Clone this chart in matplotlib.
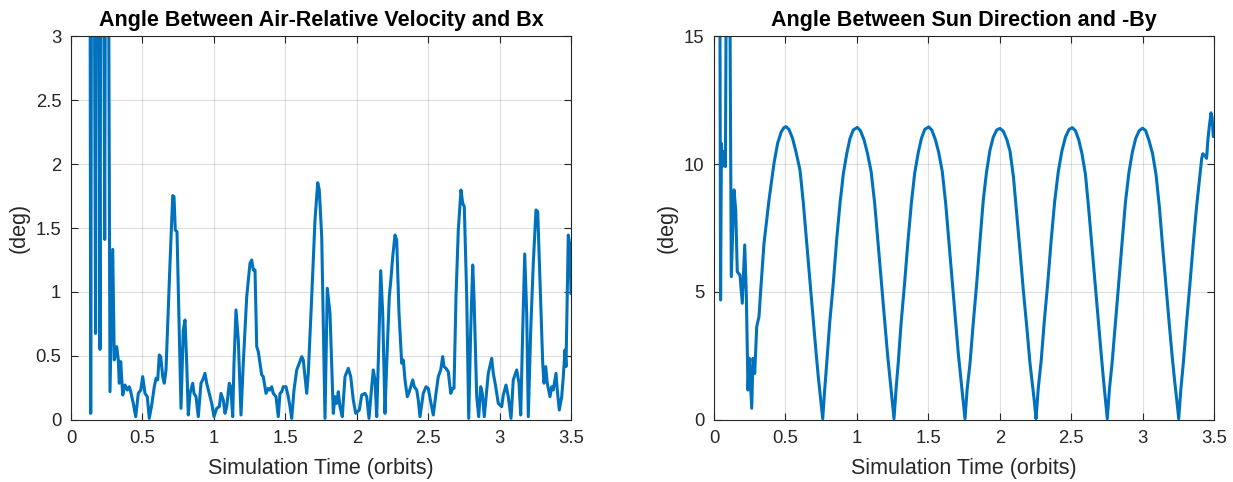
import matplotlib
matplotlib.use("Agg")
import matplotlib.pyplot as plt

plt.rcParams['font.family'] = ['Liberation Sans', 'DejaVu Sans']

# ---------------- data ----------------
titles = ["Angle Between Air-Relative Velocity and Bx", "Angle Between Sun Direction and -By"]
xlabel_text = "Simulation Time (orbits)"
ylabel_text = "(deg)"

x_ticks = [0, 0.5, 1, 1.5, 2, 2.5, 3, 3.5]
x_ticklabels = ["0", "0.5", "1", "1.5", "2", "2.5", "3", "3.5"]
left_yticks = [0, 0.5, 1, 1.5, 2, 2.5, 3]
left_yticklabels = ["0", "0.5", "1", "1.5", "2", "2.5", "3"]
right_yticks = [0, 5, 10, 15]
right_yticklabels = ["0", "5", "10", "15"]

air_t = [0.04, 0.128, 0.138, 0.150, 0.172, 0.185, 0.203, 0.215, 0.236, 0.250,
         0.273, 0.292, 0.303, 0.320, 0.331, 0.338, 0.348, 0.362, 0.378, 0.394,
         0.408, 0.418, 0.436, 0.453, 0.471, 0.488, 0.502, 0.518, 0.534, 0.548,
         0.565, 0.583, 0.595, 0.607, 0.618, 0.628, 0.642, 0.653, 0.665, 0.693,
         0.712, 0.721, 0.730, 0.742, 0.763, 0.770, 0.786, 0.798, 0.810, 0.821,
         0.833, 0.852, 0.861, 0.875, 0.891, 0.910, 0.922, 0.938, 0.950, 0.968,
         0.985, 1.001, 1.020, 1.038, 1.050, 1.066, 1.078, 1.090, 1.108, 1.118,
         1.132, 1.141, 1.155, 1.171, 1.190, 1.206, 1.230, 1.253, 1.265, 1.276,
         1.288, 1.300, 1.311, 1.323, 1.335, 1.346, 1.365, 1.381, 1.393, 1.405,
         1.416, 1.435, 1.451, 1.463, 1.475, 1.486, 1.505, 1.521, 1.533, 1.545,
         1.561, 1.580, 1.598, 1.615, 1.626, 1.638, 1.650, 1.661, 1.685, 1.708,
         1.727, 1.738, 1.755, 1.771, 1.778, 1.794, 1.813, 1.836, 1.848, 1.860,
         1.871, 1.883, 1.899, 1.918, 1.941, 1.958, 1.976, 1.993, 2.018, 2.035,
         2.058, 2.070, 2.086, 2.105, 2.116, 2.128, 2.140, 2.154, 2.168, 2.182,
         2.198, 2.210, 2.228, 2.240, 2.252, 2.268, 2.280, 2.296, 2.315, 2.326,
         2.338, 2.354, 2.368, 2.392, 2.403, 2.420, 2.431, 2.443, 2.466, 2.485,
         2.501, 2.520, 2.536, 2.555, 2.571, 2.588, 2.602, 2.611, 2.625, 2.641,
         2.658, 2.672, 2.681, 2.695, 2.711, 2.730, 2.742, 2.753, 2.770, 2.784,
         2.798, 2.812, 2.821, 2.840, 2.854, 2.868, 2.879, 2.893, 2.910, 2.921,
         2.945, 2.956, 2.973, 2.991, 3.015, 3.026, 3.045, 3.061, 3.080, 3.096,
         3.120, 3.136, 3.148, 3.162, 3.176, 3.190, 3.201, 3.218, 3.236, 3.255,
         3.267, 3.283, 3.302, 3.311, 3.323, 3.334, 3.353, 3.365, 3.376, 3.395,
         3.404, 3.418, 3.435, 3.446, 3.458, 3.465, 3.481, 3.493, 3.500]
air_deg = [8.0, 8.0, 0.052, 8.0, 0.677, 8.0, 0.552, 8.0, 1.411, 8.0,
           0.221, 1.333, 0.469, 0.573, 0.469, 0.287, 0.456, 0.195, 0.273, 0.234,
           0.260, 0.221, 0.130, 0.026, 0.208, 0.234, 0.339, 0.208, 0.182, 0.013,
           0.117, 0.260, 0.326, 0.313, 0.508, 0.495, 0.339, 0.287, 0.391, 1.224,
           1.753, 1.745, 1.484, 1.471, 0.443, 0.091, 0.703, 0.781, 0.443, 0.039,
           0.208, 0.287, 0.208, 0.182, 0.026, 0.287, 0.313, 0.365, 0.287, 0.208,
           0.130, 0.026, 0.091, 0.104, 0.208, 0.156, 0.052, 0.104, 0.287, 0.260,
           0.026, 0.443, 0.860, 0.625, 0.039, 0.443, 0.964, 1.224, 1.250, 1.172,
           1.172, 0.573, 0.534, 0.443, 0.352, 0.339, 0.208, 0.247, 0.234, 0.260,
           0.208, 0.182, 0.026, 0.208, 0.221, 0.260, 0.260, 0.182, 0.104, 0.013,
           0.234, 0.391, 0.443, 0.495, 0.469, 0.339, 0.208, 0.365, 0.964, 1.563,
           1.854, 1.797, 1.432, 0.443, 0.013, 1.029, 0.833, 0.052, 0.182, 0.130,
           0.221, 0.104, 0.026, 0.339, 0.404, 0.339, 0.156, 0.052, 0.078, 0.195,
           0.208, 0.182, 0.013, 0.260, 0.391, 0.313, 0.026, 0.573, 1.167, 0.833,
           0.052, 0.443, 0.964, 1.107, 1.276, 1.445, 1.406, 0.833, 0.443, 0.469,
           0.313, 0.182, 0.221, 0.313, 0.260, 0.234, 0.156, 0.026, 0.208, 0.260,
           0.247, 0.130, 0.039, 0.208, 0.339, 0.391, 0.495, 0.417, 0.404, 0.378,
           0.208, 0.247, 0.247, 0.964, 1.484, 1.797, 1.693, 1.667, 0.964, 0.013,
           0.703, 1.211, 0.964, 0.182, 0.026, 0.260, 0.208, 0.026, 0.234, 0.365,
           0.482, 0.365, 0.260, 0.130, 0.104, 0.195, 0.273, 0.182, 0.013, 0.313,
           0.391, 0.287, 0.039, 0.703, 1.297, 0.833, 0.026, 0.703, 1.224, 1.641,
           1.628, 1.094, 0.443, 0.287, 0.417, 0.287, 0.182, 0.260, 0.234, 0.365,
           0.234, 0.078, 0.182, 0.339, 0.547, 0.417, 1.445, 1.354, 0.990]

sun_t = [0.040, 0.046, 0.052, 0.058, 0.072, 0.080, 0.088, 0.108, 0.121, 0.140,
         0.152, 0.163, 0.182, 0.198, 0.215, 0.226, 0.238, 0.247, 0.257, 0.264,
         0.273, 0.285, 0.299, 0.315, 0.327, 0.350, 0.385, 0.420, 0.445, 0.470,
         0.490, 0.504,
         0.525, 0.550, 0.575, 0.602, 0.625, 0.649, 0.672, 0.695, 0.715, 0.730, 0.745, 0.761,
         0.775, 0.789, 0.810, 0.835, 0.858, 0.882, 0.905, 0.929, 0.952, 0.975, 1.003,
         1.025, 1.050, 1.075, 1.100, 1.125, 1.150, 1.172, 1.195, 1.215, 1.232, 1.246, 1.260,
         1.275, 1.290, 1.310, 1.335, 1.358, 1.382, 1.405, 1.430, 1.452, 1.475, 1.503,
         1.525, 1.550, 1.573, 1.598, 1.622, 1.646, 1.668, 1.690, 1.710, 1.727, 1.742, 1.757,
         1.772, 1.792, 1.815, 1.839, 1.862, 1.885, 1.908, 1.932, 1.955, 1.979, 2.002,
         2.025, 2.050, 2.072, 2.096, 2.119, 2.142, 2.165, 2.190, 2.212, 2.228, 2.242, 2.254,
         2.270, 2.290, 2.312, 2.337, 2.360, 2.385, 2.410, 2.435, 2.460, 2.485, 2.508,
         2.530, 2.553, 2.576, 2.600, 2.622, 2.645, 2.668, 2.690, 2.710, 2.726, 2.740, 2.753,
         2.768, 2.787, 2.810, 2.834, 2.857, 2.880, 2.904, 2.928, 2.952, 2.976, 3.000,
         3.022, 3.046, 3.070, 3.094, 3.118, 3.140, 3.163, 3.186, 3.207, 3.224, 3.239, 3.253,
         3.268, 3.285, 3.308, 3.332, 3.355, 3.378, 3.398, 3.414, 3.422, 3.430, 3.440, 3.448,
         3.458, 3.467, 3.479, 3.487, 3.495, 3.500]
sun_deg = [20.0, 4.69, 10.8, 9.9, 10.5, 9.9, 20.0, 20.0, 5.6, 8.99,
           8.2, 5.79, 5.66, 4.56, 6.84, 4.95, 1.17, 2.41, 1.24, 0.46,
           2.41, 1.82, 3.65, 4.04, 5.08, 6.9, 8.59, 10.03, 10.8, 11.25,
           11.42, 11.46,
           11.35, 11.0, 10.45, 9.76, 8.5, 6.9, 5.4, 3.9, 2.6, 1.69, 0.9, 0.05,
           1.2, 2.21, 3.8, 5.34, 7.0, 8.46, 9.6, 10.4, 11.0, 11.33, 11.43,
           11.3, 10.95, 10.4, 9.7, 8.45, 6.8, 5.3, 3.85, 2.55, 1.6, 0.8, 0.05,
           1.25, 2.25, 3.8, 5.4, 7.0, 8.5, 9.65, 10.45, 11.0, 11.35, 11.45,
           11.32, 10.95, 10.45, 9.7, 8.45, 6.85, 5.35, 3.9, 2.6, 1.65, 0.85, 0.05,
           1.2, 2.21, 3.8, 5.34, 7.0, 8.59, 9.7, 10.55, 11.05, 11.33, 11.39,
           11.28, 10.95, 10.5, 9.5, 8.07, 6.6, 5.08, 3.6, 2.21, 1.45, 0.75, 0.05,
           1.25, 2.3, 3.85, 5.4, 7.0, 8.55, 9.7, 10.5, 11.05, 11.35, 11.42,
           11.3, 10.95, 10.4, 9.6, 8.3, 6.8, 5.3, 3.85, 2.6, 1.6, 0.8, 0.05,
           1.2, 2.25, 3.8, 5.4, 7.0, 8.5, 9.65, 10.45, 11.0, 11.3, 11.4,
           11.3, 10.9, 10.4, 9.6, 8.3, 6.8, 5.3, 3.8, 2.5, 1.55, 0.8, 0.05,
           1.2, 2.21, 3.8, 5.34, 6.9, 8.33, 9.4, 10.22, 10.4, 10.35, 10.3, 10.22,
           11.0, 11.46, 12.0, 11.8, 11.07, 11.1]

# ---------------- style ----------------
LINE_COLOR = "#0072BD"
AX_COLOR = "#262626"

fig = plt.figure(figsize=(12.33, 4.82), dpi=100)
W, H = 1233, 482
ax_l = fig.add_axes([71 / W, (H - 420) / H, 500 / W, 384 / H])
ax_r = fig.add_axes([714 / W, (H - 420) / H, 500 / W, 384 / H])


def style(ax, title, yticks, yticklabels, ylim):
    ax.set_xlim(0, 3.5)
    ax.set_ylim(*ylim)
    ax.set_xticks(x_ticks)
    ax.set_xticklabels(x_ticklabels)
    ax.set_yticks(yticks)
    ax.set_yticklabels(yticklabels)
    ax.grid(True, color=AX_COLOR, alpha=0.15, linewidth=0.8)
    ax.set_axisbelow(True)
    ax.tick_params(direction="in", top=True, right=True, length=5, width=0.8,
                   colors=AX_COLOR, labelsize=13.3, pad=7)
    for sp in ax.spines.values():
        sp.set_color(AX_COLOR)
        sp.set_linewidth(0.8)
    ax.set_title(title, fontsize=15.5, fontweight="bold", color="black", pad=7)
    ax.set_xlabel(xlabel_text, fontsize=15.5, color=AX_COLOR, labelpad=8)
    ax.set_ylabel(ylabel_text, fontsize=15.5, color=AX_COLOR, labelpad=4)


ax_l.plot(air_t, air_deg, color=LINE_COLOR, linewidth=2.2, solid_joinstyle="round")
ax_r.plot(sun_t, sun_deg, color=LINE_COLOR, linewidth=2.2, solid_joinstyle="round")

style(ax_l, titles[0], left_yticks, left_yticklabels, (0, 3))
style(ax_r, titles[1], right_yticks, right_yticklabels, (0, 15))

fig.savefig("out.png", dpi=100)
